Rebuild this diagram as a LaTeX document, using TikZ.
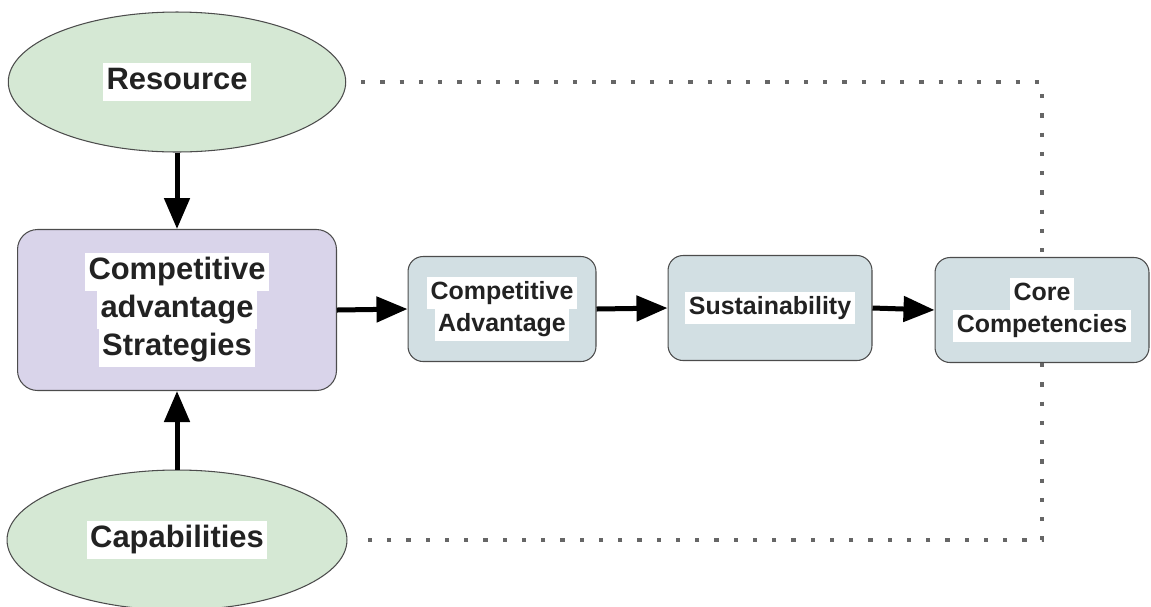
\documentclass[tikz,border=0pt]{standalone}
\usepackage{fontspec}
\setmainfont{Liberation Sans}
\usetikzlibrary{shapes}
\usetikzlibrary{arrows.meta}

\definecolor{srcgreen}{HTML}{D5E8D4}
\definecolor{stratpurple}{HTML}{D9D4EA}
\definecolor{stageblue}{HTML}{D2DFE3}
\definecolor{labelgray}{HTML}{222222}

% white band behind each line of a label
\newcommand{\hl}[1]{{\setlength{\fboxsep}{0pt}\colorbox{white}{\kern2pt\strut #1\kern2pt}}}

\begin{document}
\begin{tikzpicture} [
        x=0.02cm, y=-0.02cm,
        >={Triangle[length=0.62cm,width=0.5cm]},
        base/.style={
            draw=black!70,
            line width=0.6pt,
            align=center,
            inner sep=0pt,
            text=labelgray,
            font=\fontsize{17.6pt}{21.6pt}\selectfont\bfseries},
        src/.style={
            base,
            ellipse,
            fill=srcgreen,
            minimum width=6.75cm,
            minimum height=2.8cm},
        strat/.style={
            base,
            rectangle,
            rounded corners=4mm,
            fill=stratpurple,
            minimum width=6.38cm,
            minimum height=3.22cm},
        stage/.style={
            base,
            rectangle,
            rounded corners=3mm,
            fill=stageblue,
            minimum width=#1,
            minimum height=2.1cm,
            font=\fontsize{14.2pt}{18.2pt}\selectfont\bfseries},
        flow/.style={->, line width=0.1cm},
        link/.style={draw=black!60, line width=0.085cm,
            dash pattern=on 0.085cm off 0.3cm}]

    \useasboundingbox (0,0) rectangle (1151,606);

    % sources and the strategy box
    \node[src] (res) at (177,82) {\hl{Resource}};
    \node[strat] (strat) at (177,310) {\hl{Competitive}\\\hl{advantage}\\\hl{Strategies}};
    \node[src, minimum width=6.8cm] (cap) at (177,540) {\hl{Capabilities}};

    \draw[flow] (res.south) -- (strat.north);
    \draw[flow] (cap.north) -- (strat.south);

    % the chain of stages
    \node[stage=3.76cm] (adv) at (502,309) {\hl{Competitive}\\\hl{Advantage}};
    \node[stage=4.08cm] (sus) at (770,308) {\hl{Sustainability}};
    \node[stage=4.28cm] (core) at (1042,310) {\hl{Core}\\\hl{Competencies}};

    \draw[flow] (strat.east) -- (adv.west);
    \draw[flow] (adv.east) -- (sus.west);
    \draw[flow] (sus.east) -- (core.west);

    % dotted links back to the sources
    \draw[link, shorten <=0.3cm] (res.east) -- (core.north |- res.east) -- (core.north);
    \draw[link, shorten >=0.3cm] (core.south) -- (core.south |- cap.east) -- (cap.east);

\end{tikzpicture}
\end{document}
